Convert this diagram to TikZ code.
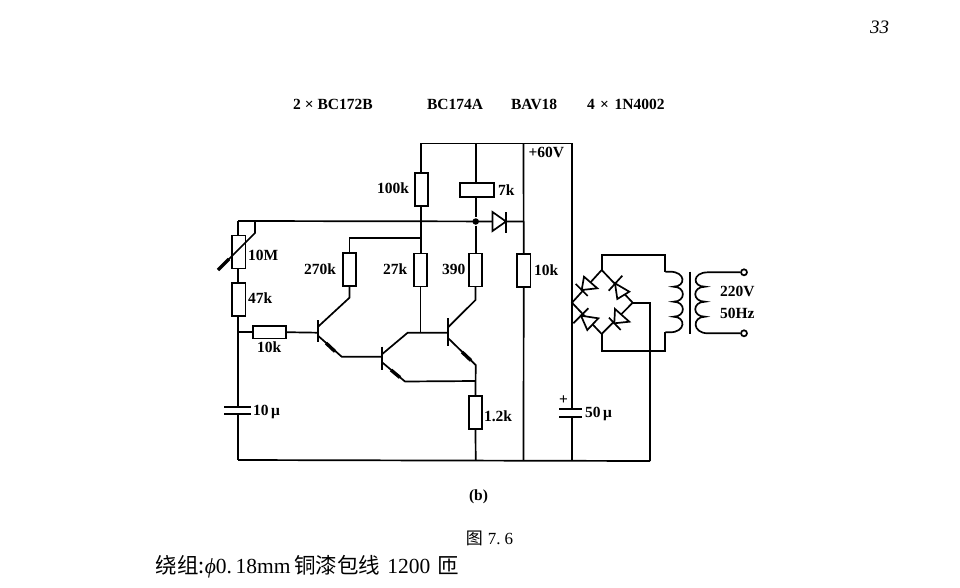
\documentclass[tikz,border=0pt]{standalone}
\usepackage{fontspec}
\setmainfont{Liberation Serif}
\newfontfamily\cjk{Noto Sans CJK SC}
\begin{document}
\begin{tikzpicture}[x=1pt,y=-1pt,line width=1.7pt,line join=miter,
  res/.style={draw,fill=white,rectangle,inner sep=0pt,outer sep=0pt,minimum width=13.5pt,minimum height=33pt,line width=1.7pt},
  lab/.style={anchor=west,inner sep=0pt,outer sep=0pt,font=\bfseries\fontsize{15.5}{17}\selectfont},
  pin/.style={draw,circle,fill=white,inner sep=0pt,minimum size=6pt,line width=1.7pt},
  dot/.style={circle,fill=black,inner sep=0pt,minimum size=6.5pt},
  tip/.style={line width=3.4pt}]
\useasboundingbox (0,0) rectangle (960,588);
% named junctions
\coordinate (TL) at (238,221);
\coordinate (TA) at (255,221);
\coordinate (TB) at (421,221);
\node[dot] (J) at (475.7,221.5) {};
\coordinate (TR) at (523.5,221.5);
\coordinate (R1) at (421,143.5);
\coordinate (R2) at (475.7,143.5);
\coordinate (R3) at (523.5,143.5);
\coordinate (R4) at (572,143.5);
\coordinate (B1) at (238,460);
\coordinate (B2) at (475.7,460);
\coordinate (B3) at (523.5,460.5);
\coordinate (B4) at (572,461);
\coordinate (B5) at (650,461);
% resistors
\node[res] (r100k) at (421.5,189.7) {};
\node[res,minimum width=34pt,minimum height=13.5pt] (r7k) at (477,190) {};
\node[res] (r10M) at (238.7,252) {};
\node[res] (r47k) at (238.7,299.7) {};
\node[res] (r270k) at (349.5,269.3) {};
\node[res] (r27k) at (420.5,270) {};
\node[res] (r390) at (475.5,270) {};
\node[res] (r10kr) at (523.7,270.3) {};
\node[res,minimum width=33pt,minimum height=12.5pt] (r10kh) at (269.7,332.2) {};
\node[res] (r12k) at (475.5,412.5) {};
% capacitors
\coordinate (c10a) at (238,407.3);
\coordinate (c10b) at (238,414.3);
\coordinate (c50a) at (572,409.3);
\coordinate (c50b) at (572,416.7);
\draw (224,407.3) -- (250.7,407.3);
\draw (224,414.3) -- (250.7,414.3);
\draw (559.3,409.3) -- (581.7,409.3);
\draw (559.3,416.7) -- (581.7,416.7);
% rails
\draw (R1) -- (R4) -- (c50a);
\draw (c50b) -- (B4);
\draw (R3) -- (r10kr.north);
\draw (r10kr.south) -- (B3);
\draw (B1) -- (B5);
\draw (TL) -- (TR);
\draw (TL) -- (r10M.north-|TL);
\draw (r10M.south-|TL) -- (r47k.north-|TL);
\draw (r47k.south-|TL) -- (c10a);
\draw (c10b) -- (B1);
% upper branches
\draw (R1) -- (R1|-r100k.north);
\draw (R1|-r100k.south) -- (R1|-r27k.north);
\draw (R2) -- (R2|-r7k.north);
\draw (R2|-r7k.south) -- (J);
\draw (J) -- (R2|-r390.north);
\coordinate (K) at (421,237.7);
\draw (K) -| (r270k.north);
% 10M trimmer
\draw (TA) -- (255,233) -- (218,270);
\draw[tip] (218,270) -- (229,259);
% diode to rail
\coordinate (DT) at (506,221.5);
\draw[fill=white] (492.5,212) -- (DT) -- (492.5,231) -- cycle;
\draw (506,212) -- (506,233);
% transistors
\coordinate (T1b) at (318.3,332.7);
\coordinate (T2b) at (382.3,356.7);
\coordinate (T3b) at (448.3,332.7);
\draw (T1b|-0,320) -- (T1b|-0,342);
\draw (T2b|-0,346.7) -- (T2b|-0,370);
\draw (T3b|-0,318.3) -- (T3b|-0,346);
\draw (r10kh.east) -- (T1b);
\draw (238,332.2) -- (r10kh.west);
\coordinate (E1) at (341.7,356.7);
\coordinate (E2) at (405,381.5);
\coordinate (E3) at (475.7,365);
\coordinate (C2) at (407.7,332.7);
\coordinate (JE) at (475.7,381);
\draw (r270k.south) -- (349.5,297.7) -- (318.3,326.5);
\draw (318.3,336) -- (E1) -- (T2b);
\draw[tip] (326,343) -- (335,351.5);
\draw (T2b|-0,354) -- (C2) -- (T3b);
\draw (T2b|-0,362.5) -- (E2) -- (JE);
\draw[tip] (391,370) -- (400,377.5);
\draw (r27k.south) -- (420.5,332.7);
\draw (r390.south) -- (475.5,300) -- (448.3,327);
\draw (448.3,338.3) -- (E3) -- (r12k.north);
\draw[tip] (462,352) -- (471,360.5);
\draw (r12k.south) -- (B2);
% bridge
\coordinate (BT) at (601.7,270);
\coordinate (BR) at (632.7,302.7);
\coordinate (BB) at (601.7,334);
\coordinate (BL) at (572,302.7);
\draw (BL) -- (BT) -- (BR) -- (BB) -- cycle;
\draw (BT) -- (601.7,255) -- (665.3,255) -- (665.3,271.7);
\draw (BB) -- (601.7,350.7) -- (665.3,350.7) -- (665.3,332.3);
\draw (BR) -- (650,302.7) -- (B5);
% bridge diodes
\draw (575.7,284) -- (587.7,296);
\draw[fill=white] (581.7,290) -- (584,276.7) -- (597.3,288.3) -- cycle;
\draw (608.7,290.7) -- (622.3,275.7);
\draw[fill=white] (615,283.3) -- (629.3,291.7) -- (617.3,299) -- cycle;
\draw (573.3,323.3) -- (588.3,308.3);
\draw[fill=white] (581,315.7) -- (598.3,318.3) -- (587.3,330) -- cycle;
\draw (609,317.7) -- (620.7,330);
\draw[fill=white] (614.3,323.3) -- (615,309) -- (629.3,321.7) -- cycle;
% transformer
\draw (665.3,271.7) -- (670,271.7)
  .. controls (686,271.7) and (686,286.7) .. (673.5,286.7)
  .. controls (686,286.7) and (686,301.7) .. (673.5,301.7)
  .. controls (686,301.7) and (686,316.7) .. (673.5,316.7)
  .. controls (686,316.7) and (686,332.3) .. (670,332.3) -- (665.3,332.3);
\draw (690,271.7) -- (690,334);
\node[pin] (P1) at (744,272.3) {};
\node[pin] (P2) at (744,333.3) {};
\draw (P1) -- (708,272.3)
  .. controls (692,272.3) and (692,286.7) .. (705,286.7)
  .. controls (692,286.7) and (692,301.7) .. (705,301.7)
  .. controls (692,301.7) and (692,316.7) .. (705,316.7)
  .. controls (692,316.7) and (692,333.3) .. (708,333.3) -- (P2);
% labels
\node[lab] (t1) at (293,104.5) {2\hspace{4pt}×\hspace{4pt}BC172B};
\node[lab] (t2) at (427,104.5) {BC174A};
\node[lab] (t3) at (511,104.5) {BAV18};
\node[lab] (t4) at (587,104.5) {4\hspace{5.5pt}×\hspace{5.5pt}1N4002};
\node[lab] (t5) at (528.5,152) {+60V};
\node[lab] (t6) at (377,188) {100k};
\node[lab] (t7) at (498,190.5) {7k};
\node[lab] (t8) at (248,255) {10M};
\node[lab] (t9) at (304,269) {270k};
\node[lab] (t10) at (383,269) {27k};
\node[lab] (t11) at (442,269) {390};
\node[lab] (t12) at (534,270) {10k};
\node[lab] (t13) at (248,298) {47k};
\node[lab] (t14) at (257,347) {10k};
\node[lab] (t15) at (253,411.5) {10\,μ};
\node[lab] (t16) at (484,416) {1.2k};
\node[lab] (t17) at (585,414) {50\,μ};
\node[lab] (t18) at (559,400) {+};
\node[lab] (t19) at (720,291) {220V};
\node[lab] (t20) at (720,313) {50Hz};
\node[lab] (t21) at (469,497) {(b)};
\node[anchor=west,inner sep=0pt,font=\fontsize{17}{19}\selectfont] (cap) at (465,538) {{\cjk 图}\hspace{5pt}7.\hspace{4pt}6};
\node[anchor=west,inner sep=0pt,font=\fontsize{21.5}{23}\selectfont] (line) at (155,567) {{\cjk 绕组:}{\itshape ϕ}0.\,18mm\,{\cjk 铜漆包线}\,\,1200\,\,{\cjk 匝}};
\node[anchor=east,inner sep=0pt,font=\itshape\fontsize{19}{21}\selectfont] (pg) at (890,27) {33};
\end{tikzpicture}
\end{document}
